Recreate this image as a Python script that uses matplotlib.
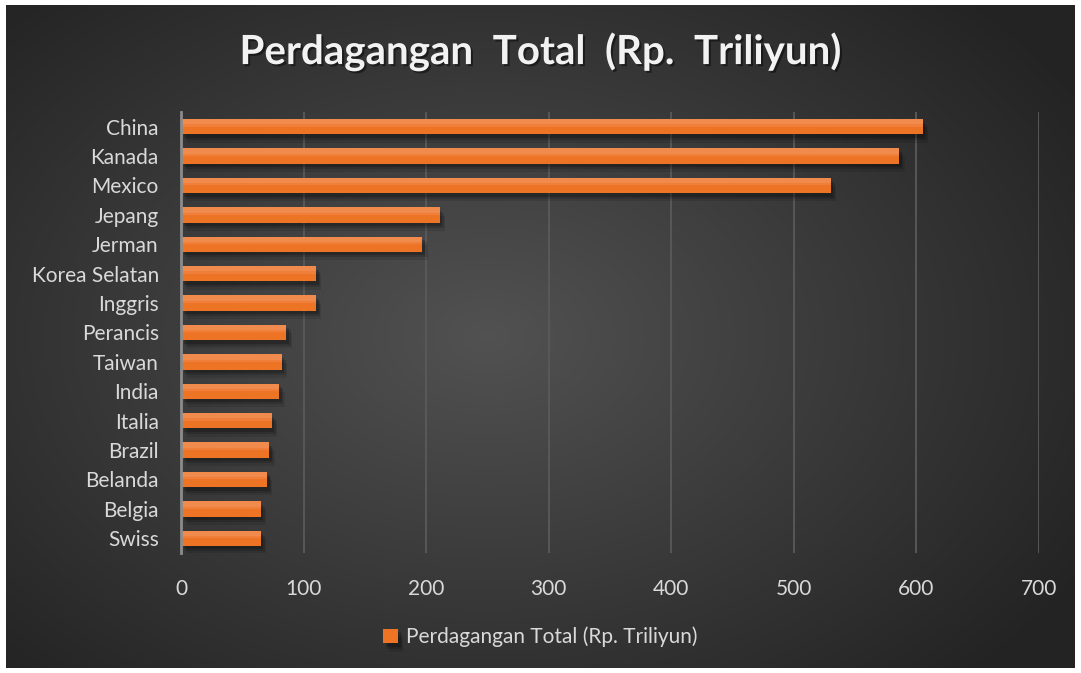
import numpy as np
import matplotlib.pyplot as plt
import matplotlib.patheffects as pe

# data (Rp. Triliyun)
countries = ['China', 'Kanada', 'Mexico', 'Jepang', 'Jerman', 'Korea Selatan',
             'Inggris', 'Perancis', 'Taiwan', 'India', 'Italia', 'Brazil',
             'Belanda', 'Belgia', 'Swiss']
values = [605, 586, 530, 211, 197, 110, 110, 86, 82, 80, 74, 72, 70, 65, 65]
xticks = [0, 100, 200, 300, 400, 500, 600, 700]
title = 'Perdagangan  Total  (Rp.  Triliyun)'
series_name = 'Perdagangan Total (Rp. Triliyun)'

plt.rcParams['font.family'] = ['Lato', 'DejaVu Sans']

W, H = 1081, 673
fig = plt.figure(figsize=(W/100, H/100), dpi=100, facecolor='white')

# dark radial gradient background
bg = fig.add_axes([6/W, 5/H, 1 - 12/W, 1 - 10/H])
yy, xx = np.mgrid[-1:1:300j, -1:1:500j]
r = np.sqrt((xx + 0.1)**2 + (yy * 0.9)**2)
g = np.clip(0.32 - 0.14 * r, 0.14, 0.32)
bg.imshow(np.dstack([g, g, g]), aspect='auto', extent=[0, 1, 0, 1],
          interpolation='bicubic')
bg.set_axis_off()

ax = fig.add_axes([181/W, 1 - 553/H, (1039 - 181)/W, (553 - 112)/H])
ax.patch.set_alpha(0)

y = np.arange(len(countries))
# soft blurred shadow under bars
shadow = [pe.SimplePatchShadow(offset=(4, -6), shadow_rgbFace='black', alpha=0.10),
          pe.SimplePatchShadow(offset=(3, -4), shadow_rgbFace='black', alpha=0.15),
          pe.SimplePatchShadow(offset=(2, -2.5), shadow_rgbFace='black', alpha=0.2),
          pe.Normal()]
bars = ax.barh(y, values, height=0.52, color='#ec7424', zorder=3,
               label=series_name)
for b in bars:
    b.set_path_effects(shadow)
# lighter top for a soft gradient look
ax.barh(y - 0.17, values, height=0.18, color='#f18b4d', zorder=4)
ax.barh(y - 0.04, values, height=0.08, color='#ef7f3a', zorder=4)

ax.set_xlim(0, 700)
ax.set_ylim(len(countries) - 0.5, -0.5)
ax.set_xticks(xticks)
ax.set_yticks(y)
ax.set_yticklabels(countries)
ax.tick_params(axis='both', length=0, colors='#d9d9d9', labelsize=15)
ax.tick_params(axis='x', pad=19)
ax.tick_params(axis='y', pad=16)
ax.grid(axis='x', color='#5a5a5a', linewidth=1.3, zorder=0)
for s in ['top', 'right', 'bottom']:
    ax.spines[s].set_visible(False)
ax.spines['left'].set_color('#8c8c8c')
ax.spines['left'].set_linewidth(2)
ax.spines['left'].set_zorder(5)

fig.text(0.5, 1 - 52/H, title, ha='center', va='center', color='#f2f2f2',
         fontsize=29, fontweight='bold',
         path_effects=[pe.withSimplePatchShadow(offset=(1.5, -1.5),
                                                shadow_rgbFace='black', alpha=0.45)])

leg = fig.legend(handles=[bars], labels=[series_name], loc='center',
                 bbox_to_anchor=(0.5, 1 - 637/H), frameon=False, fontsize=15,
                 handlelength=0.7, handleheight=0.7, handletextpad=0.4)
for t in leg.get_texts():
    t.set_color('#d9d9d9')

fig.savefig('out.png', dpi=100, facecolor='white')
